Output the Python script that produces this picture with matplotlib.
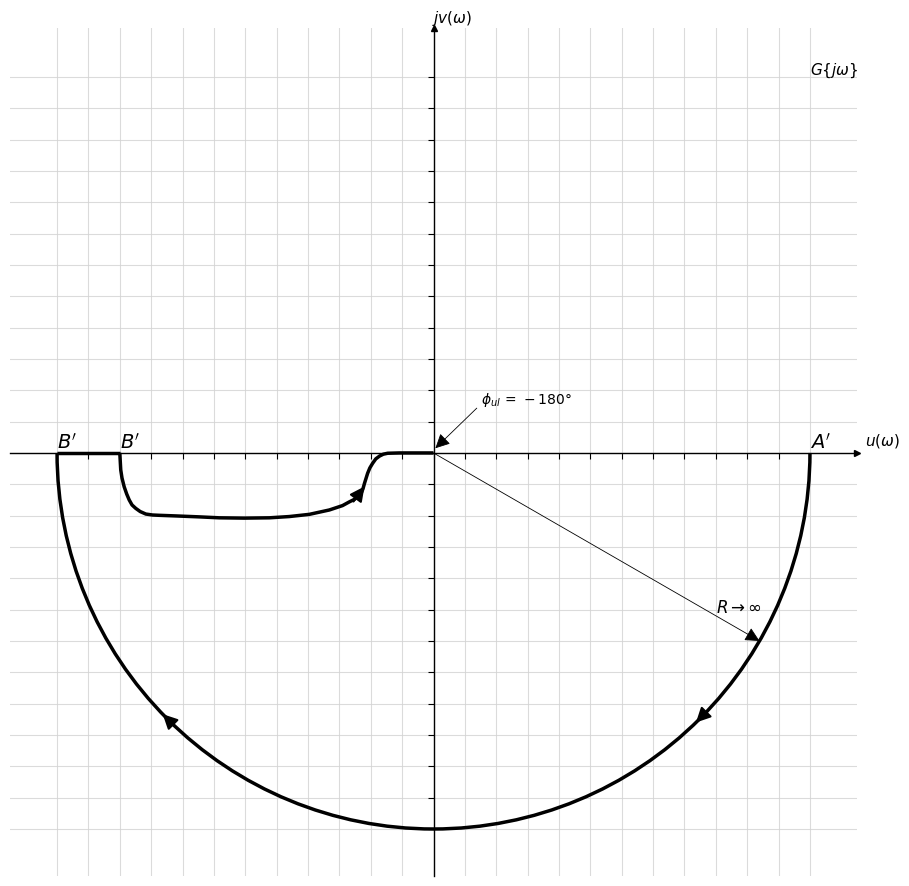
import numpy as np
import matplotlib
matplotlib.use('Agg')
import matplotlib.pyplot as plt
from matplotlib.patches import Arc

R = 12                                   # radius of the big semicircle
grid_ticks = list(range(-12, 13))

# inner locus, from B' (inner) to the origin
inner_u = [-10.0, -9.97, -9.93, -9.86, -9.78, -9.70, -9.61, -9.49, -9.35, -9.17,
           -8.96, -8.75, -8.21, -7.47, -6.83, -6.03, -5.23, -4.60, -3.96, -3.32,
           -2.90, -2.68, -2.52, -2.31, -2.25, -2.20, -2.10, -2.03, -1.94, -1.84,
           -1.72, -1.60, -1.46, -1.09, 0.0]
inner_v = [0.0, -0.54, -0.80, -1.08, -1.31, -1.50, -1.66, -1.77, -1.87, -1.95,
           -1.98, -1.99, -2.01, -2.04, -2.07, -2.08, -2.07, -2.03, -1.96, -1.82,
           -1.68, -1.56, -1.48, -1.29, -1.15, -0.97, -0.65, -0.48, -0.33, -0.19,
           -0.10, -0.04, -0.01, 0.0, 0.0]

# segment joining the two B' points on the real axis
join_u = [-12, -10]
join_v = [0, 0]

# direction arrows : (tail, head) on the curves
inner_arrow = [(-2.55, -1.55), (-2.20, -1.07)]
arc_arrow_deg = [(-43.3, -45.8), (-133.5, -136.0)]   # angles on the semicircle
radius_arrow_deg = -30

labels_B = [(-12, "$B'$"), (-10, "$B'$")]

fig = plt.figure(figsize=(9.09, 8.86), dpi=100)
ax = fig.add_axes([10/909., 10/886., 847/909., 848/886.])
ax.set_xlim(-13.5, 13.5)
ax.set_ylim(-13.5, 13.56)

# axes through the origin with arrows .....................................
for s in ['top', 'right']:
	ax.spines[s].set_visible(False)
ax.spines['left'].set_position('zero')
ax.spines['bottom'].set_position('zero')
ax.spines['left'].set_linewidth(1.0)
ax.spines['bottom'].set_linewidth(1.0)
ax.plot(1, 0, '>k', markersize=5, transform=ax.get_yaxis_transform(), clip_on=False)
ax.plot(0, 1, '^k', markersize=5, transform=ax.get_xaxis_transform(), clip_on=False)

ax.set_xticks(grid_ticks)
ax.set_yticks(grid_ticks)
ax.set_xticklabels([])
ax.set_yticklabels([])
ax.tick_params(length=4, width=0.8)
ax.grid(True, color='lightgray', linewidth=0.8, alpha=0.8)
ax.set_axisbelow(True)

# curves ..................................................................
arc = Arc((0, 0), 2*R, 2*R, theta1=180, theta2=360, color='k', linewidth=2.5)
ax.add_patch(arc)
ax.plot(join_u, join_v, 'k', linewidth=2.5, solid_capstyle='butt')
ax.plot(inner_u, inner_v, 'k', linewidth=2.5, solid_capstyle='butt', solid_joinstyle='round')

ap = dict(arrowstyle='-|>', color='k', mutation_scale=22, linewidth=1.5, shrinkA=0, shrinkB=0)
ax.annotate('', xy=inner_arrow[1], xytext=inner_arrow[0], arrowprops=ap)
for a0, a1 in arc_arrow_deg:
	t0 = np.deg2rad(a0)
	t1 = np.deg2rad(a1)
	ax.annotate('', xy=(R*np.cos(t1), R*np.sin(t1)), xytext=(R*np.cos(t0), R*np.sin(t0)), arrowprops=ap)

# radius R -> infinity
t = np.deg2rad(radius_arrow_deg)
ax.annotate('', xy=(R*np.cos(t), R*np.sin(t)), xytext=(0, 0),
			arrowprops=dict(arrowstyle='-|>', color='k', mutation_scale=22, linewidth=0.6, shrinkA=0, shrinkB=0))
ax.text(9.0, -4.95, r'$R \rightarrow \infty$', fontsize=12, va='center', ha='left')

# phase annotation
ax.annotate('', xy=(0.06, 0.15), xytext=(1.38, 1.43),
			arrowprops=dict(arrowstyle='-|>', color='k', mutation_scale=22, linewidth=0.6,
							shrinkA=0, shrinkB=0))
ax.text(1.5, 1.69, r'$\phi_{ul}\,=\,-180\degree$', fontsize=10, va='center', ha='left')

# labels ..................................................................
for u, s in labels_B:
	ax.text(u, 0.0, s, fontsize=14, ha='left', va='bottom')
ax.text(R, 0.0, "$A'$", fontsize=14, ha='left', va='bottom')
ax.text(13.75, 0.38, r'$u(\omega)$', fontsize=11, ha='left', va='center', clip_on=False)
ax.text(-0.05, 13.85, r'$jv(\omega)$', fontsize=11, ha='left', va='center', clip_on=False)
ax.text(12.0, 12.2, r'$G\{j\omega\}$', fontsize=11, ha='left', va='center')

plt.savefig('out.png', dpi=100)
